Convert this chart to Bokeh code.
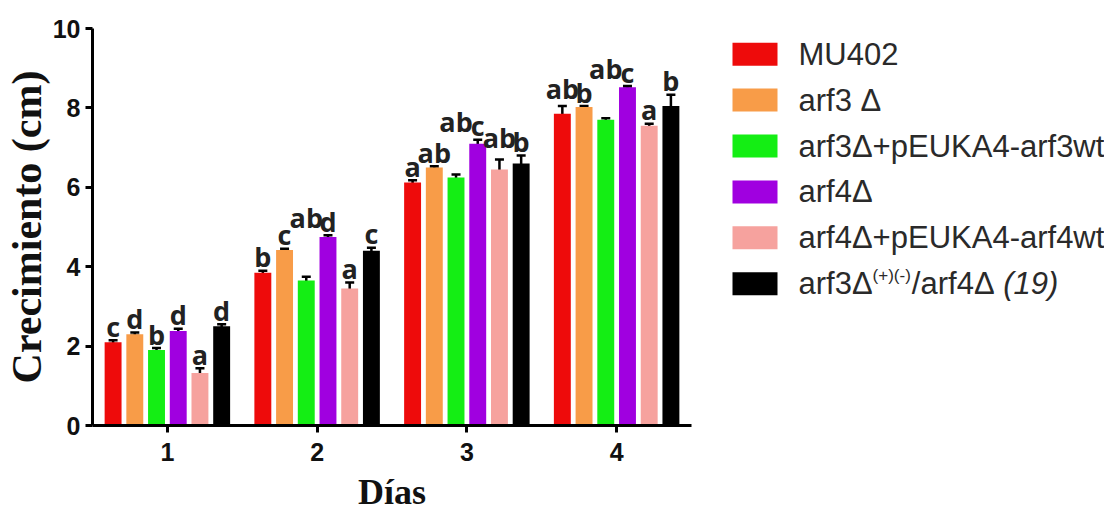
from bokeh.plotting import figure
from bokeh.models import ColumnDataSource, Range1d, FixedTicker, Whisker, TeeHead
from bokeh.layouts import row
from bokeh.embed import file_html
from bokeh.resources import INLINE
from bokeh.core.properties import value

# ---------------- data ----------------
days = [1, 2, 3, 4]
strains = ["MU402", "arf3 Δ", "arf3Δ+pEUKA4-arf3wt", " arf4Δ",
           "arf4Δ+pEUKA4-arf4wt", "arf3Δ(+)(-)/arf4Δ (19)"]
colors = ["#ee0b0b", "#f89c48", "#14ee14", "#a000e0", "#f6a29e", "#000000"]

mu402 = [2.10, 3.85, 6.12, 7.85]
arf3 = [2.30, 4.42, 6.50, 8.02]
arf3_comp = [1.90, 3.65, 6.25, 7.70]
arf4 = [2.38, 4.75, 7.10, 8.52]
arf4_comp = [1.32, 3.45, 6.45, 7.55]
double = [2.50, 4.40, 6.60, 8.05]

mu402_sem = [0.05, 0.05, 0.06, 0.20]
arf3_sem = [0.04, 0.03, 0.03, 0.03]
arf3_comp_sem = [0.05, 0.10, 0.07, 0.04]
arf4_sem = [0.06, 0.04, 0.10, 0.03]
arf4_comp_sem = [0.12, 0.15, 0.25, 0.05]
double_sem = [0.05, 0.08, 0.20, 0.28]

mu402_let = ["c", "b", "a", "ab"]
arf3_let = ["d", "c", "ab", "b"]
arf3_comp_let = ["b", "ab", "ab", "ab"]
arf4_let = ["d", "d", "c", "c"]
arf4_comp_let = ["a", "a", "ab", "a"]
double_let = ["d", "c", "b", "b"]

means = [mu402, arf3, arf3_comp, arf4, arf4_comp, double]
sems = [mu402_sem, arf3_sem, arf3_comp_sem, arf4_sem, arf4_comp_sem, double_sem]
letters = [mu402_let, arf3_let, arf3_comp_let, arf4_let, arf4_comp_let, double_let]

# ---------------- main figure ----------------
FRAME_W, FRAME_H = 601, 397
BL, BR, BT = 90, 8, 28
H = 519
BB = H - BT - FRAME_H
W = BL + FRAME_W + BR
p = figure(width=W, height=H, x_range=Range1d(0.5, 4.5), y_range=Range1d(0, 10),
           output_backend="svg", toolbar_location=None,
           min_border_left=BL, min_border_right=BR, min_border_top=BT, min_border_bottom=BB)
p.outline_line_color = None
p.xgrid.visible = False
p.ygrid.visible = False
p.background_fill_color = "white"

pitch = 0.145
bar_w = 0.113
n = len(strains)

label_x, label_y, label_t = [], [], []
pad = 0.35
for j, d in enumerate(days):
    base = [means[i][j] + sems[i][j] + pad for i in range(n)]
    ys = list(base)
    for i in range(n - 1):
        if len(letters[i][j]) > 1:
            ys[i] = max(base[i], base[i + 1] + 0.1)
    for i in range(n):
        label_x.append(d + (i - (n - 1) / 2) * pitch)
        label_y.append(ys[i])
        label_t.append(letters[i][j])

for i in range(n):
    xs = [d + (i - (n - 1) / 2) * pitch for d in days]
    src = ColumnDataSource(dict(x=xs, top=means[i],
                                upper=[m + s for m, s in zip(means[i], sems[i])],
                                lower=[m - s for m, s in zip(means[i], sems[i])]))
    p.vbar(x="x", top="top", bottom=0, width=bar_w, source=src,
           fill_color=colors[i], line_color=None)
    wk = Whisker(source=src, base="x", upper="upper", lower="lower",
                 line_color="black", line_width=2.5,
                 upper_head=TeeHead(size=9, line_width=2.5, line_color="black"),
                 lower_head=TeeHead(size=9, line_width=2.5, line_color="black"))
    p.add_layout(wk)

lsrc = ColumnDataSource(dict(x=label_x, y=label_y, t=label_t))
p.text(x="x", y="y", text="t", source=lsrc, text_align="center",
       text_baseline="alphabetic", text_font=value("Open Sans"),
       text_font_style="bold", text_font_size="27px", text_color="#222222")

for ax in (p.xaxis[0], p.yaxis[0]):
    ax.axis_line_width = 3
    ax.axis_line_color = "black"
    ax.major_tick_line_width = 3
    ax.major_tick_line_color = "black"
    ax.major_tick_out = 7
    ax.major_tick_in = 0
    ax.minor_tick_line_color = None
    ax.major_label_text_font = "Liberation Sans"
    ax.major_label_text_font_style = "bold"
    ax.major_label_text_font_size = "25px"
    ax.major_label_text_color = "#111111"
    ax.axis_label_text_font = "Liberation Serif"
    ax.axis_label_text_font_style = "bold"
    ax.axis_label_text_color = "#111111"

p.xaxis.axis_label_text_font_size = "36px"
p.yaxis.axis_label_text_font_size = "42px"
p.xaxis.ticker = FixedTicker(ticks=days)
p.yaxis.ticker = FixedTicker(ticks=[0, 2, 4, 6, 8, 10])
p.xaxis.axis_label = "Días"
p.yaxis.axis_label = "Crecimiento (cm)"
p.xaxis.major_label_standoff = 10
p.yaxis.major_label_standoff = 5
p.xaxis.axis_label_standoff = 8
p.yaxis.axis_label_standoff = 0

# ---------------- legend figure (data units = page pixels) ----------------
LW = 405
LX0 = W
leg = figure(width=LW, height=H, x_range=Range1d(LX0, LX0 + LW),
             y_range=Range1d(BT + FRAME_H, BT),
             output_backend="svg", toolbar_location=None,
             min_border_left=0, min_border_right=0, min_border_top=BT, min_border_bottom=BB,
             x_axis_location=None, y_axis_location=None)
leg.outline_line_color = None
leg.xgrid.visible = False
leg.ygrid.visible = False

y0, step = 53.7, 45.9
ys = [y0 + step * i for i in range(n)]
sw_x = 754.5
leg.rect(x=[sw_x] * n, y=ys, width=45, height=23, fill_color=colors, line_color=None)

em = {"a": .556, "r": .333, "f": .278, "3": .556, "4": .556, "Δ": .668, "/": .278,
      " ": .278, "(": .333, ")": .333, "+": .584, "-": .333}
def wid(s, size):
    return sum(em.get(c, .556) for c in s) * size

fs = 31
tx = 798
leg.text(x=[tx] * (n - 1), y=ys[:n - 1], text=strains[:n - 1], text_baseline="middle",
         text_font=value("Liberation Sans"), text_font_size=f"{fs}px", text_color="#2a2a2a")

# last entry with superscript and italic part
p1 = "arf3Δ"
p2 = "(+)(-)"
p3 = "/arf4Δ "
p4 = "(19)"
sup = 17
x1 = tx
x2 = x1 + wid(p1, fs)
x3 = x2 + wid(p2, sup) + 1
x4 = x3 + wid(p3, fs)
yl = ys[-1]
leg.text(x=[x1, x3], y=[yl, yl], text=[p1, p3], text_baseline="middle",
         text_font=value("Liberation Sans"), text_font_size=f"{fs}px", text_color="#2a2a2a")
leg.text(x=[x2], y=[yl - 8], text=[p2], text_baseline="middle",
         text_font=value("Liberation Sans"), text_font_size=f"{sup}px", text_color="#2a2a2a")
leg.text(x=[x4], y=[yl], text=[p4], text_baseline="middle",
         text_font=value("Liberation Sans"), text_font_style="italic",
         text_font_size=f"{fs}px", text_color="#2a2a2a")

layout = row(p, leg)
open("out.html", "w").write(file_html(layout, INLINE))
